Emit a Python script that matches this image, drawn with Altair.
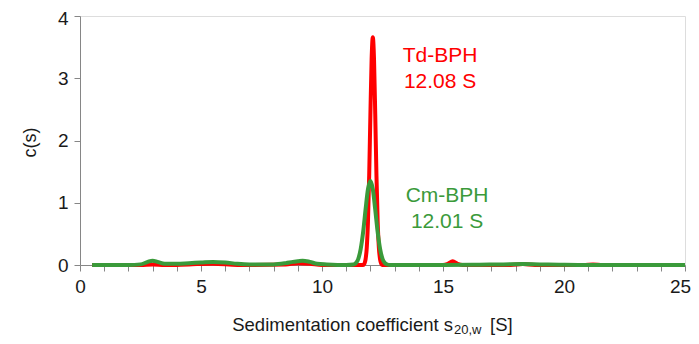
import altair as alt
import pandas as pd

# Td-BPH (red) c(s) distribution
s_red = [0.5, 2.5, 3.0, 3.5, 4.5, 5.5, 6.5, 8.5, 9.0, 9.5, 10.0, 11.5, 11.7, 11.75, 11.8,
         11.85, 11.9, 11.95, 12.0, 12.05, 12.1, 12.15, 12.2, 12.25, 12.3, 12.35, 12.4,
         12.45, 12.5, 12.7, 15.0, 15.2, 15.4, 15.6, 15.8, 17.8, 18.3, 18.8, 20.8, 21.2,
         21.6, 25.0]
c_red = [0, 0, 0.01, 0, 0.01, 0.02, 0, 0.01, 0.03, 0.02, 0, 0, 0.0, 0.02, 0.09,
         0.28, 0.70, 1.44, 2.42, 3.30, 3.66, 3.30, 2.42, 1.44, 0.70, 0.28, 0.09,
         0.02, 0.0, 0, 0, 0.02, 0.06, 0.02, 0, 0, 0.015, 0, 0, 0.01,
         0, 0]

# Cm-BPH (green) c(s) distribution
s_green = [0.5, 2.0, 2.5, 2.8, 3.0, 3.2, 3.5, 4.0, 4.5, 5.0, 5.5, 6.0, 6.5, 7.0, 8.0,
           8.5, 8.8, 9.0, 9.2, 9.5, 9.8, 10.2, 11.0, 11.3, 11.4, 11.5, 11.6, 11.7, 11.8,
           11.9, 12.0, 12.1, 12.2, 12.3, 12.4, 12.5, 12.6, 12.7, 12.8, 13.5, 15.0, 16.5,
           17.5, 18.3, 19.0, 19.8, 21.0, 23.0, 25.0]
c_green = [0.0, 0.0, 0.01, 0.05, 0.07, 0.05, 0.02, 0.02, 0.03, 0.04, 0.05, 0.04, 0.02, 0.01, 0.01,
           0.03, 0.05, 0.06, 0.07, 0.05, 0.02, 0.01, 0.0, 0.008, 0.03, 0.10, 0.26, 0.53, 0.89,
           1.22, 1.35, 1.22, 0.89, 0.53, 0.26, 0.10, 0.03, 0.008, 0.0, 0.0, 0.0, 0.005,
           0.01, 0.015, 0.01, 0.005, 0.0, 0.0, 0.0]

x_ticks = list(range(0, 26))
y_ticks = [0, 1, 2, 3, 4]

label_text = ["Td-BPH", "12.08 S", "Cm-BPH", "12.01 S"]
label_x = [14.88, 14.88, 15.17, 15.17]
label_y = [3.36, 2.94, 1.11, 0.69]
label_series = ["red", "red", "green", "green"]

RED = "#ff0000"
GREEN = "#3a9a3a"
AXIS = "#868686"
FONT = "Liberation Sans"

df_red = pd.DataFrame({"s": s_red, "c": c_red})
df_green = pd.DataFrame({"s": s_green, "c": c_green})
df_lab = pd.DataFrame({"text": label_text, "s": label_x, "c": label_y, "series": label_series})

xscale = alt.Scale(domain=[0, 25], nice=False, zero=False)
yscale = alt.Scale(domain=[0, 4], nice=False)

xaxis = alt.Axis(values=x_ticks, labelExpr="datum.value % 5 == 0 ? datum.label : ''",
                 grid=False, domainColor=AXIS, tickColor=AXIS, tickSize=6,
                 labelFontSize=19, labelFont=FONT, labelColor="#1a1a1a", labelPadding=6,
                 labelOffset={"condition": {"test": "datum.value == 25", "value": -5}, "value": 0},
                 title=None, labelFlush=False, labelOverlap=False, format="d")
yaxis = alt.Axis(values=y_ticks, grid=False, domainColor=AXIS, tickColor=AXIS, tickSize=6,
                 labelFontSize=19, labelFont=FONT, labelColor="#1a1a1a", labelPadding=6,
                 labelOffset={"condition": {"test": "datum.value == 4", "value": 2}, "value": 0},
                 format="d", labelFlush=False, labelOverlap=False,
                 title="c(s)", titleFont=FONT, titleFontSize=18, titleFontWeight="normal",
                 titleColor="#1a1a1a", titleX=-50, titleY=126, titleAngle=-90,
                 titleAlign="center", titleBaseline="middle")

X = alt.X("s:Q", scale=xscale, axis=xaxis)
Y = alt.Y("c:Q", scale=yscale, axis=yaxis)

red_line = alt.Chart(df_red).mark_line(color=RED, strokeWidth=4, interpolate="monotone",
                                       strokeJoin="round").encode(x=X, y=Y)
green_line = alt.Chart(df_green).mark_line(color=GREEN, strokeWidth=4, interpolate="monotone",
                                           strokeJoin="round").encode(x=X, y=Y)
labels = alt.Chart(df_lab).mark_text(font=FONT, fontSize=21, align="center",
                                     baseline="middle").encode(
    x=X, y=Y,
    text="text:N",
    color=alt.Color("series:N", scale=alt.Scale(domain=["red", "green"], range=[RED, GREEN]),
                    legend=None),
)

title_main = ["Sedimentation coefficient s"]
title_sub = ["20,w"]
title_end = ["[S]"]

t1 = alt.Chart(pd.DataFrame({"t": title_main})).mark_text(
    font=FONT, fontSize=18.5, align="right", baseline="alphabetic", color="#1a1a1a"
).encode(x=alt.value(373), y=alt.value(315), text="t:N")
t2 = alt.Chart(pd.DataFrame({"t": title_sub})).mark_text(
    font=FONT, fontSize=13, align="left", baseline="alphabetic", color="#1a1a1a"
).encode(x=alt.value(374), y=alt.value(318), text="t:N")
t3 = alt.Chart(pd.DataFrame({"t": title_end})).mark_text(
    font=FONT, fontSize=18.5, align="left", baseline="alphabetic", color="#1a1a1a"
).encode(x=alt.value(410), y=alt.value(315), text="t:N")

chart = alt.layer(red_line, green_line, labels, t1, t2, t3).properties(
    width=605, height=249,
    autosize=alt.AutoSizeParams(type="none"),
    padding={"left": 72, "top": 8, "right": 6, "bottom": 71},
).configure_view(stroke=None).configure(background="white")

chart.save("out.html", embed_options={"renderer": "svg", "actions": False})
